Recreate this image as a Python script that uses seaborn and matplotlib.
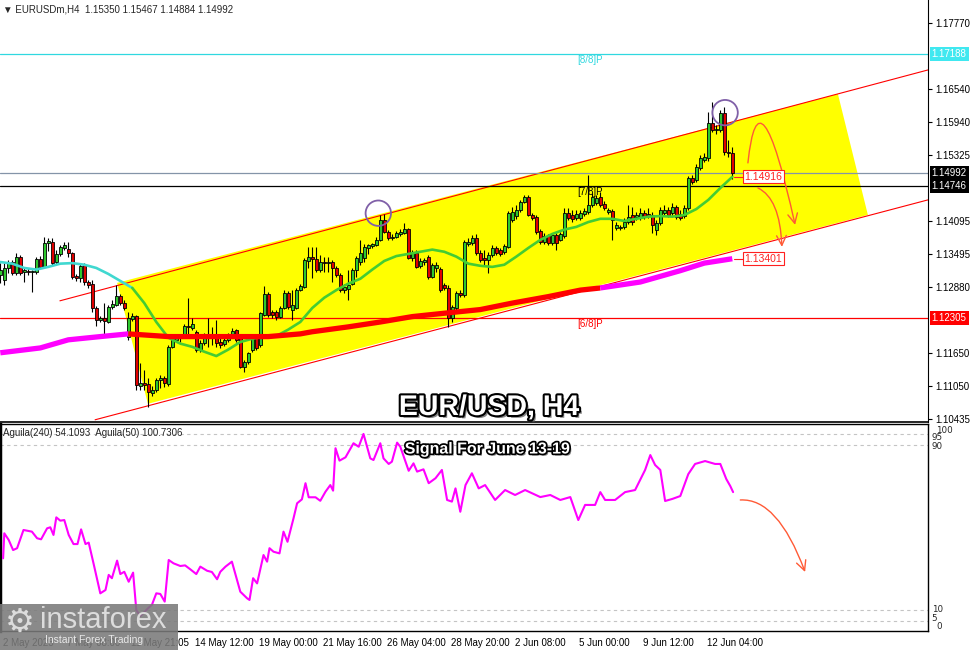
import matplotlib
matplotlib.use("Agg")
import matplotlib.pyplot as plt
import matplotlib.patheffects as pe
from matplotlib.patches import Polygon, Ellipse, FancyArrowPatch, Rectangle
from matplotlib.path import Path
from matplotlib.transforms import blended_transform_factory, ScaledTranslation
import numpy as np
import pandas as pd
import seaborn as sns

# ---- H4 candles (bar 0 = 2 May 20:00, bar 183 = 13 Jun 08:00) ----
bar_open = [
    1.1310, 1.1301, 1.1323, 1.1334, 1.1314, 1.1344, 1.1316, 1.1318, 1.1316, 1.1316,
    1.1340, 1.1325, 1.1369, 1.1371, 1.1334, 1.1349, 1.1360, 1.1358, 1.1351, 1.1308,
    1.1305, 1.1329, 1.1297, 1.1294, 1.1249, 1.1227, 1.1231, 1.1223, 1.1251, 1.1255,
    1.1271, 1.1258, 1.1196, 1.1229, 1.1234, 1.1105, 1.1110, 1.1109, 1.1092, 1.1098,
    1.1116, 1.1120, 1.1109, 1.1177, 1.1190, 1.1194, 1.1199, 1.1216, 1.1212, 1.1205,
    1.1172, 1.1185, 1.1199, 1.1196, 1.1199, 1.1186, 1.1183, 1.1190, 1.1199, 1.1209,
    1.1199, 1.1140, 1.1149, 1.1172, 1.1194, 1.1181, 1.1236, 1.1275, 1.1242, 1.1242,
    1.1233, 1.1249, 1.1277, 1.1246, 1.1249, 1.1282, 1.1288, 1.1336, 1.1344, 1.1340,
    1.1320, 1.1334, 1.1332, 1.1334, 1.1323, 1.1310, 1.1282, 1.1284, 1.1294, 1.1320,
    1.1334, 1.1342, 1.1360, 1.1364, 1.1366, 1.1375, 1.1412, 1.1390, 1.1379, 1.1381,
    1.1386, 1.1388, 1.1395, 1.1342, 1.1351, 1.1327, 1.1334, 1.1344, 1.1307, 1.1323,
    1.1321, 1.1292, 1.1286, 1.1231, 1.1249, 1.1277, 1.1273, 1.1368, 1.1369, 1.1379,
    1.1351, 1.1342, 1.1338, 1.1347, 1.1360, 1.1357, 1.1353, 1.1362, 1.1412, 1.1419,
    1.1431, 1.1445, 1.1455, 1.1421, 1.1418, 1.1392, 1.1371, 1.1382, 1.1369, 1.1384,
    1.1375, 1.1382, 1.1425, 1.1421, 1.1416, 1.1416, 1.1423, 1.1427, 1.1440, 1.1443,
    1.1455, 1.1442, 1.1427, 1.1429, 1.1397, 1.1397, 1.1399, 1.1408, 1.1421, 1.1418,
    1.1418, 1.1425, 1.1423, 1.1421, 1.1394, 1.1406, 1.1425, 1.1431, 1.1425, 1.1436,
    1.1423, 1.1419, 1.1434, 1.1490, 1.1486, 1.1508, 1.1523, 1.1527, 1.1591, 1.1578,
    1.1578, 1.1610, 1.1538, 1.15350,
]
bar_high = [
    1.1332, 1.1332, 1.1338, 1.1338, 1.1351, 1.1347, 1.1325, 1.1323, 1.1320, 1.1344,
    1.1345, 1.1381, 1.1379, 1.1379, 1.1357, 1.1366, 1.1371, 1.1371, 1.1353, 1.1312,
    1.1331, 1.1332, 1.1301, 1.1301, 1.1253, 1.1234, 1.1258, 1.1255, 1.1264, 1.1292,
    1.1275, 1.1264, 1.1242, 1.1240, 1.1236, 1.1147, 1.1135, 1.1120, 1.1105, 1.1120,
    1.1125, 1.1123, 1.1181, 1.1196, 1.1199, 1.1201, 1.1220, 1.1268, 1.1231, 1.1209,
    1.1190, 1.1203, 1.1231, 1.1214, 1.1227, 1.1194, 1.1194, 1.1203, 1.1212, 1.1210,
    1.1201, 1.1153, 1.1168, 1.1199, 1.1197, 1.1242, 1.1290, 1.1279, 1.1246, 1.1246,
    1.1253, 1.1282, 1.1281, 1.1282, 1.1286, 1.1294, 1.1342, 1.1362, 1.1362, 1.1362,
    1.1347, 1.1344, 1.1344, 1.1338, 1.1327, 1.1314, 1.1294, 1.1320, 1.1323, 1.1345,
    1.1375, 1.1368, 1.1368, 1.1369, 1.1381, 1.1421, 1.1423, 1.1394, 1.1386, 1.1392,
    1.1395, 1.1406, 1.1397, 1.1357, 1.1357, 1.1342, 1.1342, 1.1347, 1.1332, 1.1334,
    1.1325, 1.1295, 1.1292, 1.1255, 1.1281, 1.1282, 1.1375, 1.1379, 1.1384, 1.1386,
    1.1357, 1.1357, 1.1353, 1.1366, 1.1364, 1.1360, 1.1368, 1.1429, 1.1436, 1.1440,
    1.1449, 1.1458, 1.1458, 1.1425, 1.1421, 1.1395, 1.1388, 1.1386, 1.1388, 1.1388,
    1.1390, 1.1434, 1.1434, 1.1431, 1.1431, 1.1431, 1.1434, 1.1495, 1.1462, 1.1458,
    1.1464, 1.1447, 1.1434, 1.1432, 1.1408, 1.1403, 1.1416, 1.1440, 1.1436, 1.1427,
    1.1434, 1.1431, 1.1434, 1.1427, 1.1412, 1.1436, 1.1440, 1.1436, 1.1443, 1.1440,
    1.1431, 1.1440, 1.1493, 1.1495, 1.1516, 1.1532, 1.1536, 1.1612, 1.1630, 1.1588,
    1.1615, 1.1621, 1.1560, 1.15467,
]
bar_low = [
    1.1295, 1.1292, 1.1314, 1.1310, 1.1310, 1.1310, 1.1297, 1.1310, 1.1279, 1.1312,
    1.1323, 1.1323, 1.1355, 1.1327, 1.1329, 1.1345, 1.1357, 1.1344, 1.1303, 1.1299,
    1.1297, 1.1292, 1.1286, 1.1242, 1.1216, 1.1223, 1.1199, 1.1221, 1.1247, 1.1253,
    1.1255, 1.1246, 1.1190, 1.1225, 1.1098, 1.1098, 1.1098, 1.1066, 1.1086, 1.1094,
    1.1101, 1.1103, 1.1105, 1.1175, 1.1188, 1.1186, 1.1197, 1.1199, 1.1209, 1.1168,
    1.1168, 1.1181, 1.1177, 1.1181, 1.1177, 1.1175, 1.1179, 1.1186, 1.1196, 1.1186,
    1.1138, 1.1131, 1.1146, 1.1168, 1.1172, 1.1177, 1.1234, 1.1233, 1.1231, 1.1227,
    1.1231, 1.1247, 1.1247, 1.1227, 1.1247, 1.1281, 1.1286, 1.1323, 1.1305, 1.1316,
    1.1316, 1.1316, 1.1316, 1.1297, 1.1307, 1.1279, 1.1277, 1.1264, 1.1292, 1.1307,
    1.1329, 1.1334, 1.1349, 1.1360, 1.1364, 1.1373, 1.1388, 1.1375, 1.1375, 1.1379,
    1.1382, 1.1386, 1.1340, 1.1336, 1.1323, 1.1323, 1.1329, 1.1303, 1.1305, 1.1316,
    1.1279, 1.1282, 1.1214, 1.1223, 1.1246, 1.1270, 1.1270, 1.1364, 1.1366, 1.1347,
    1.1334, 1.1329, 1.1314, 1.1344, 1.1347, 1.1345, 1.1349, 1.1360, 1.1408, 1.1414,
    1.1427, 1.1443, 1.1419, 1.1412, 1.1386, 1.1368, 1.1368, 1.1366, 1.1366, 1.1357,
    1.1373, 1.1379, 1.1412, 1.1408, 1.1412, 1.1412, 1.1419, 1.1423, 1.1436, 1.1440,
    1.1436, 1.1431, 1.1423, 1.1375, 1.1394, 1.1394, 1.1395, 1.1405, 1.1403, 1.1412,
    1.1412, 1.1414, 1.1416, 1.1388, 1.1384, 1.1403, 1.1421, 1.1418, 1.1421, 1.1414,
    1.1412, 1.1416, 1.1431, 1.1479, 1.1482, 1.1504, 1.1519, 1.1521, 1.1575, 1.1571,
    1.1575, 1.1532, 1.1529, 1.14884,
]
bar_close = [
    1.1320, 1.1323, 1.1332, 1.1314, 1.1344, 1.1314, 1.1320, 1.1316, 1.1317, 1.1340,
    1.1325, 1.1369, 1.1373, 1.1332, 1.1349, 1.1362, 1.1366, 1.1351, 1.1307, 1.1305,
    1.1327, 1.1297, 1.1292, 1.1249, 1.1227, 1.1231, 1.1225, 1.1251, 1.1257, 1.1271,
    1.1258, 1.1249, 1.1231, 1.1234, 1.1107, 1.1110, 1.1107, 1.1094, 1.1098, 1.1116,
    1.1120, 1.1110, 1.1177, 1.1192, 1.1196, 1.1199, 1.1216, 1.1214, 1.1220, 1.1172,
    1.1185, 1.1199, 1.1196, 1.1199, 1.1185, 1.1181, 1.1190, 1.1199, 1.1207, 1.1190,
    1.1140, 1.1149, 1.1166, 1.1194, 1.1175, 1.1240, 1.1275, 1.1236, 1.1236, 1.1233,
    1.1249, 1.1277, 1.1251, 1.1255, 1.1282, 1.1290, 1.1338, 1.1344, 1.1340, 1.1320,
    1.1334, 1.1332, 1.1334, 1.1323, 1.1310, 1.1282, 1.1288, 1.1292, 1.1320, 1.1342,
    1.1351, 1.1362, 1.1366, 1.1368, 1.1375, 1.1412, 1.1390, 1.1379, 1.1381, 1.1388,
    1.1390, 1.1395, 1.1342, 1.1351, 1.1325, 1.1336, 1.1338, 1.1307, 1.1329, 1.1329,
    1.1282, 1.1286, 1.1231, 1.1251, 1.1277, 1.1273, 1.1371, 1.1371, 1.1379, 1.1351,
    1.1338, 1.1338, 1.1347, 1.1360, 1.1351, 1.1349, 1.1364, 1.1425, 1.1427, 1.1431,
    1.1445, 1.1455, 1.1421, 1.1416, 1.1390, 1.1371, 1.1382, 1.1369, 1.1384, 1.1369,
    1.1386, 1.1425, 1.1416, 1.1414, 1.1423, 1.1425, 1.1429, 1.1440, 1.1455, 1.1453,
    1.1440, 1.1434, 1.1431, 1.1412, 1.1403, 1.1399, 1.1408, 1.1418, 1.1408, 1.1421,
    1.1425, 1.1418, 1.1419, 1.1403, 1.1406, 1.1431, 1.1431, 1.1421, 1.1436, 1.1418,
    1.1416, 1.1434, 1.1490, 1.1482, 1.1510, 1.1527, 1.1529, 1.1591, 1.1578, 1.1580,
    1.1610, 1.1538, 1.1535, 1.14992,
]

# fast moving average (cyan up to bar 33, green after)
fast_ma_bars = list(range(0, 184, 3))
fast_ma_vals = [
    1.1334, 1.1331, 1.1323, 1.1320, 1.1325, 1.1331, 1.1332, 1.1329, 1.1323, 1.1312,
    1.1299, 1.1286, 1.1258, 1.1223, 1.1194, 1.1183, 1.1177, 1.1168, 1.1160, 1.1172,
    1.1186, 1.1192, 1.1196, 1.1197, 1.1209, 1.1223, 1.1249, 1.1268, 1.1282, 1.1294,
    1.1303, 1.1320, 1.1336, 1.1345, 1.1349, 1.1353, 1.1357, 1.1353, 1.1344, 1.1331,
    1.1327, 1.1325, 1.1329, 1.1344, 1.1360, 1.1375, 1.1386, 1.1394, 1.1399, 1.1408,
    1.1414, 1.1414, 1.1410, 1.1414, 1.1418, 1.1419, 1.1418, 1.1421, 1.1432, 1.1449,
    1.1471, 1.14916,
]
# slow moving average (magenta / red / magenta)
slow_ma_bars = [0, 10, 17, 25, 32, 42, 50, 58, 67, 75, 78, 87, 95, 103, 112, 120,
                128, 137, 145, 150, 160, 170, 176, 183]
slow_ma_vals = [1.1166, 1.1175, 1.1190, 1.1196, 1.1201, 1.1196, 1.1196, 1.1196,
                1.1196, 1.1201, 1.1205, 1.1214, 1.1223, 1.1233, 1.1240, 1.1246,
                1.1258, 1.1270, 1.1282, 1.1286, 1.1297, 1.1318, 1.1332, 1.13401]

# Aguila oscillator trace
osc_bars = [
    0.7, 1, 2.1, 3.2, 4.2, 5.8, 7.9, 9.2, 10.2, 11.7, 12.5, 13.3, 14, 15, 16, 17.1,
    18.3, 19.3, 20.2, 21.3, 22.1, 23.3, 25, 26.3, 27.1, 27.9, 29.2, 30, 31, 32.1,
    33.2, 34, 35, 37, 37.9, 39, 40, 41.1, 42.1, 43.3, 45, 46.2, 47.5, 49, 50, 51.7,
    52.9, 54.2, 55, 56.3, 57.9, 60, 61.7, 62.3, 63.2, 64.2, 65.8, 66.7, 67.3, 68.3,
    69.8, 70.8, 71.8, 73.3, 74.2, 75.4, 76.3, 77.1, 78.8, 80, 81.3, 82.5, 83.2, 83.8,
    84.8, 86.3, 88.3, 89.6, 90.8, 92.5, 93.3, 95, 95.8, 97.1, 97.9, 99.2, 100, 102.1,
    103.3, 104.2, 105.8, 107.1, 108.8, 110.4, 111.7, 112.9, 113.8, 115, 116.3, 117.9,
    119.6, 121.2, 123.7, 126.2, 128.7, 131.2, 135, 137.5, 140, 142.5, 144.5, 146.2,
    148.7, 150, 151.2, 153.7, 156.2, 158.7, 161.2, 162.5, 163.7, 165, 166.2, 168, 170,
    172, 173.7, 176.2, 178.7, 180, 181.5, 182.5, 183.2,
]
osc_vals = [
    35.1, 47.2, 44.0, 39.1, 40.0, 48.8, 48.0, 44.8, 44.3, 49.6, 50.1, 46.4, 54.9, 53.3,
    53.6, 46.4, 42.0, 42.0, 49.1, 42.0, 42.7, 32.7, 18.2, 19.8, 27.1, 25.5, 34.0, 27.5,
    28.6, 23.8, 28.2, 10.1, 7.2, 11.1, 12.6, 18.2, 17.9, 14.2, 34.3, 32.7, 31.4, 31.7,
    29.8, 27.5, 31.1, 29.1, 28.5, 25.0, 28.6, 31.1, 33.5, 19.0, 15.8, 15.0, 25.5, 23.0,
    36.7, 33.5, 40.0, 38.3, 37.5, 48.0, 43.1, 54.4, 61.7, 63.6, 71.4, 64.6, 64.6, 62.9,
    67.3, 70.5, 67.8, 88.3, 82.3, 83.9, 90.7, 89.0, 95.2, 83.4, 82.6, 90.7, 83.4, 80.7,
    81.8, 91.0, 89.0, 77.4, 81.0, 77.0, 78.1, 71.4, 73.8, 77.8, 63.3, 62.5, 68.9, 57.6,
    70.5, 76.2, 68.9, 70.5, 63.3, 68.1, 65.7, 68.1, 64.7, 65.7, 63.3, 64.7, 53.6, 60.9,
    60.9, 67.1, 63.3, 63.3, 67.1, 68.1, 77.8, 85.0, 80.2, 77.8, 62.8, 63.8, 65.2, 75.8,
    80.7, 82.1, 80.7, 80.7, 73.4, 70.0, 67.1,
]

price_ticks = [1.17770, 1.16540, 1.15940, 1.15325, 1.14095, 1.13495, 1.12880,
               1.11650, 1.11050, 1.10435]
time_tick_bars = [0, 16, 32, 48, 64, 80, 96, 112, 128, 144, 160, 176]
time_tick_labels = ["2 May 2025", "7 May 08:00", "11 May 21:05", "14 May 12:00",
                    "19 May 00:00", "21 May 16:00", "26 May 04:00", "28 May 20:00",
                    "2 Jun 08:00", "5 Jun 00:00", "9 Jun 12:00", "12 Jun 04:00"]
osc_level_labels = [100, 95, 90, 10, 5, 0]

# Murrey levels and current price
murrey_levels = [1.17188, 1.14746, 1.12305]
murrey_names = ["[8/8]P", "[7/8]P", "[6/8]P"]
murrey_colors = ["#30d8e0", "#000000", "#ff0000"]
last_price = 1.14992

# hand-drawn channel (bar, price)
channel_bars = [29.2, 209.4, 216.9, 36.9]
channel_prices = [1.12954, 1.16451, 1.14212, 1.10716]
upper_line_bars, upper_line_prices = [14.9, 231.9], [1.12622, 1.16895]
lower_line_bars, lower_line_prices = [23.7, 231.9], [1.10420, 1.14490]
circle_bars = [94.5, 181.2]
circle_prices = [1.14244, 1.16105]
arrow_main_a = [(186.9, 1.15175), (189.6, 1.17080), (198.7, 1.14027)]
arrow_main_b = [(189.4, 1.14712), (194.9, 1.14518), (195.4, 1.13620)]
arrow_osc = [(185.0, 63.3), (194.3, 64.3), (201.2, 28.5)]

W, H = 976, 650
PRICE_TOP, PRICE_BOTTOM = 1.18190, 1.10379
XMIN, XMAX = -0.075, 231.925
GREEN_UP, RED_DOWN = "#2ec82e", "#e00000"
ARROW_RED = "#ff5a36"

sns.set_style("white")
plt.rcParams["font.family"] = ["Liberation Sans", "DejaVu Sans"]

fig = plt.figure(figsize=(W / 100, H / 100), dpi=100)
fig.patch.set_facecolor("white")
ax = fig.add_axes([0, 1 - 422 / H, 928 / W, 422 / H])
axi = fig.add_axes([0, 1 - 631 / H, 928 / W, 207 / H])

# ---------- main price panel ----------
ax.set_xlim(XMIN, XMAX)
ax.set_ylim(PRICE_BOTTOM, PRICE_TOP)

ax.add_patch(Polygon(list(zip(channel_bars, channel_prices)), closed=True,
                     facecolor="#ffff00", edgecolor="none", zorder=0.5))
ax.plot(upper_line_bars, upper_line_prices, color="#ff0000", lw=0.8, zorder=1)
ax.plot(lower_line_bars, lower_line_prices, color="#ff0000", lw=0.8, zorder=1)

for lvl, name, col in zip(murrey_levels, murrey_names, murrey_colors):
    ax.axhline(lvl, color=col, lw=0.9, zorder=2)
    ax.text(147.4, lvl - 0.00025, name, color=col, fontsize=7, ha="center",
            va="top", zorder=6)
ax.axhline(last_price, color="#8494a8", lw=0.9, zorder=2)

df = pd.DataFrame({"o": bar_open, "h": bar_high, "l": bar_low, "c": bar_close})
df["bar"] = np.arange(len(df))
up = df["c"] >= df["o"]
body = (df["c"] - df["o"]).abs().clip(lower=0.00004)
bottom = df[["o", "c"]].min(axis=1)
ax.vlines(df["bar"], df["l"], df["h"], color="black", lw=0.8, zorder=3)
ax.bar(df["bar"][up], body[up], bottom=bottom[up], width=0.7, color=GREEN_UP,
       edgecolor="black", linewidth=0.6, zorder=4)
ax.bar(df["bar"][~up], body[~up], bottom=bottom[~up], width=0.7, color=RED_DOWN,
       edgecolor="black", linewidth=0.6, zorder=4)

fast = pd.DataFrame({"bar": fast_ma_bars, "val": fast_ma_vals})
sns.lineplot(data=fast[fast.bar <= 33], x="bar", y="val", ax=ax, color="#40d8d0",
             lw=1.9, zorder=5, estimator=None, sort=False)
sns.lineplot(data=fast[fast.bar >= 33], x="bar", y="val", ax=ax, color="#44cc33",
             lw=1.9, zorder=5, estimator=None, sort=False)
slow = pd.DataFrame({"bar": slow_ma_bars, "val": slow_ma_vals})
for part, col in [(slow[slow.bar <= 32], "#ff00ff"),
                  (slow[(slow.bar >= 32) & (slow.bar <= 150)], "#ff0000"),
                  (slow[slow.bar >= 150], "#ff00ff")]:
    sns.lineplot(data=part, x="bar", y="val", ax=ax, color=col, lw=3.8, zorder=5,
                 estimator=None, sort=False, solid_capstyle="butt")

for bx, py in zip(circle_bars, circle_prices):
    ax.add_patch(Ellipse((bx, py), 6.35, 0.0047, fill=False, edgecolor="#8060a8",
                         lw=1.3, zorder=7))


def curved_arrow(axis, pts):
    path = Path(pts, [Path.MOVETO, Path.CURVE3, Path.CURVE3])
    axis.add_patch(FancyArrowPatch(path=path, arrowstyle="->,head_length=0.5,head_width=0.25",
                                   mutation_scale=14, color=ARROW_RED, lw=1.0, zorder=8))


curved_arrow(ax, arrow_main_a)
curved_arrow(ax, arrow_main_b)

# MA value tags
for val in [fast_ma_vals[-1], slow_ma_vals[-1]]:
    ax.plot([183.3, 185.9], [val, val], color="#ff2020", lw=0.8, zorder=6)
    ax.text(186.0, val, f"{val:.5f}", color="#ff2020", fontsize=7.5, ha="left",
            va="center", zorder=9,
            bbox=dict(boxstyle="square,pad=0.15", fc="white", ec="#ff2020", lw=0.8))

ax.yaxis.tick_right()
ax.set_yticks(price_ticks)
ax.set_yticklabels([f"{v:.5f}" for v in price_ticks])
ax.tick_params(axis="y", labelsize=7, length=3, pad=2, colors="black")
ax.set_xticks([])
ax.set_xlabel("")
ax.set_ylabel("")
for side in ["top", "left"]:
    ax.spines[side].set_visible(False)
ax.spines["right"].set_color("black")
ax.spines["bottom"].set_color("black")
ax.spines["bottom"].set_linewidth(1.2)

trans = blended_transform_factory(ax.transAxes, ax.transData)
for val, bg, fg in [(1.17188, "#40e8f0", "white"), (last_price, "black", "white"),
                    (1.14746, "black", "white"), (1.12305, "#ff0000", "white")]:
    ax.text(1.004, val, f"{val:.5f}", transform=trans, color=fg, fontsize=7,
            ha="left", va="center", zorder=10, clip_on=False,
            bbox=dict(boxstyle="square,pad=0.2", fc=bg, ec="none"))

# ---------- oscillator panel ----------
axi.set_xlim(XMIN, XMAX)
axi.set_ylim(0, 100)
for lvl in [95, 90, 10, 5]:
    axi.axhline(lvl, color="#c4c4c4", lw=0.8, ls=(0, (3, 3)), zorder=1)
osc = pd.DataFrame({"bar": osc_bars, "val": osc_vals})
sns.lineplot(data=osc, x="bar", y="val", ax=axi, color="#ff00ff", lw=1.5,
             estimator=None, sort=False, zorder=3)
curved_arrow(axi, arrow_osc)

# level captions on the right (100/95 and 5/0 sit tight, as in the terminal)
otrans = blended_transform_factory(axi.transAxes, axi.transData)
level_pos = {100: (1.009, 99.0, "top"), 95: (1.004, 93.5, "center"),
             90: (1.004, 89.0, "center"), 10: (1.004, 10.5, "center"),
             5: (1.004, 6.0, "center"), 0: (1.009, 0.0, "bottom")}
for lvl in osc_level_labels:
    xo, yo, va = level_pos[lvl]
    axi.text(xo, yo, str(lvl), transform=otrans, fontsize=6.3, ha="left",
             va=va, clip_on=False, family="DejaVu Sans")
axi.set_yticks([])
axi.set_xlabel("")
axi.set_ylabel("")
axi.set_xticks(time_tick_bars)
axi.set_xticklabels(time_tick_labels, ha="left")
axi.tick_params(axis="x", labelsize=7, length=4, pad=1, direction="out", colors="black")
shift = ScaledTranslation(2 / 72, 0, fig.dpi_scale_trans)
for lbl in axi.get_xticklabels():
    lbl.set_transform(lbl.get_transform() + shift)
for side in ["top", "right", "bottom", "left"]:
    axi.spines[side].set_color("black")
    axi.spines[side].set_linewidth(1.0)
axi.spines["left"].set_linewidth(2.5)

# ---------- headers and titles ----------
fig.text(3 / W, 1 - 10 / H, "\u25bc EURUSDm,H4  1.15350 1.15467 1.14884 1.14992",
         fontsize=7, va="center", ha="left")
fig.text(3 / W, 1 - 433 / H, "Aguila(240) 54.1093  Aguila(50) 100.7306",
         fontsize=7, va="center", ha="left")

title_fx = [pe.SimplePatchShadow(offset=(2, -2), shadow_rgbFace="#555555", alpha=0.7),
            pe.withStroke(linewidth=3, foreground="black")]
fig.text(489 / W, 1 - 408 / H, "EUR/USD, H4", fontsize=20.5, weight="bold",
         color="white", ha="center", va="center", path_effects=title_fx, zorder=30)
fig.text(488 / W, 1 - 449 / H, "Signal For June 13-19", fontsize=11.5, weight="bold",
         color="white", ha="center", va="center", zorder=30,
         path_effects=[pe.SimplePatchShadow(offset=(1.5, -1.5), shadow_rgbFace="#555555",
                                            alpha=0.7),
                       pe.withStroke(linewidth=2.5, foreground="black")])

# watermark logo, bottom left
fig.patches.append(Rectangle((0, 0), 178 / W, 46 / H, transform=fig.transFigure,
                             facecolor="#7a7a7a", edgecolor="none", alpha=0.88, zorder=20))
fig.text(20 / W, 1 - 622 / H, "\u2699", fontsize=24, color="#dcdcdc", ha="center",
         va="center", family="DejaVu Sans", zorder=21)
fig.text(40 / W, 1 - 620 / H, "instaforex", fontsize=21, color="#dcdcdc", ha="left",
         va="center", zorder=21)
fig.text(45 / W, 1 - 640 / H, "Instant Forex Trading", fontsize=7.5, color="#e8e8e8",
         ha="left", va="center", zorder=21)

fig.savefig("out.png", dpi=100, facecolor="white")
